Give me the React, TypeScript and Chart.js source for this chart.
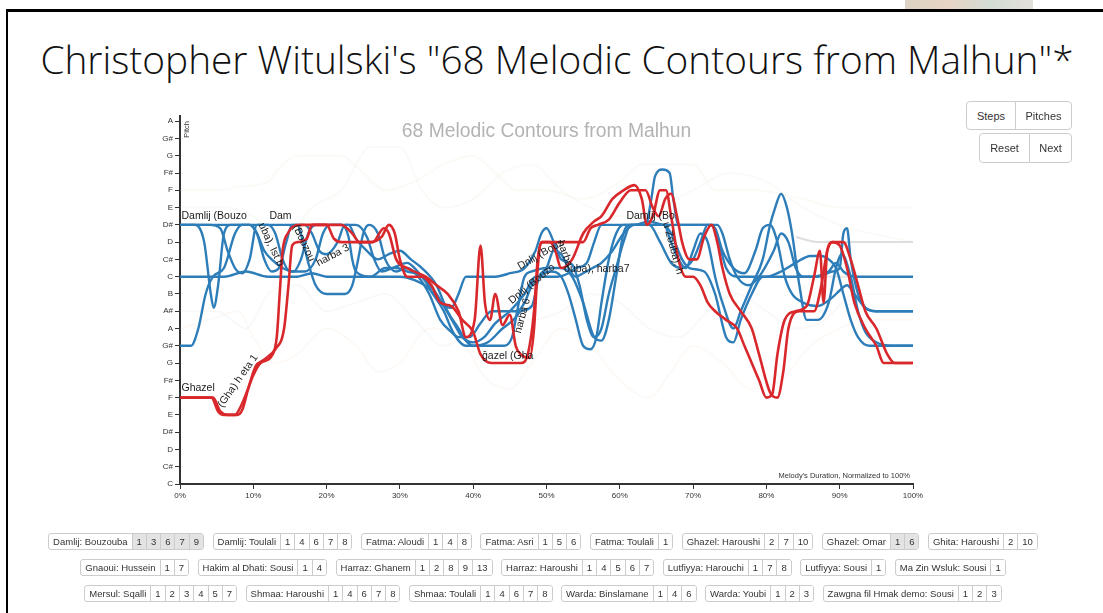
import React, { useEffect, useRef } from 'react';
import { Chart, registerables } from 'chart.js';

Chart.register(...registerables);

// ---------- data ----------
const pitchNames = ['C', 'C#', 'D', 'D#', 'E', 'F', 'F#', 'G', 'G#', 'A', 'A#', 'B', 'C', 'C#', 'D', 'D#', 'E', 'F', 'F#', 'G', 'G#', 'A'];
const xTickValues = [0, 10, 20, 30, 40, 50, 60, 70, 80, 90, 100];

// [percent of duration, pitch index]
const ghazelOmar1: [number, number][] = [
  [0, 5], [4.5, 5], [5.5, 4.2], [6.5, 4], [7.5, 4], [8.3, 4.5], [9, 5.2], [10, 6.3], [11, 7], [12.5, 7.4], [13.2, 8.5], [13.6, 11], [14, 13.5], [14.7, 14.5], [16.5, 15], [20, 15], [21, 14.2], [22, 14], [26, 14], [27.5, 14.3], [28.5, 15], [29.3, 14.5], [30, 13], [31, 12], [33, 12], [34.3, 11.5], [35.5, 10.5], [37, 10.3], [38.5, 9.5], [40, 8.8], [41, 7.5], [42.5, 7], [46.5, 7], [47.5, 7.6], [48.3, 10], [48.8, 13], [49.5, 14], [55, 14], [56, 14.8], [57, 15], [58.5, 15.3], [60, 16.3], [61.5, 17], [63.5, 17], [64.5, 16], [65.3, 15.5], [66.2, 16.5], [67, 16.8], [67.8, 15.5], [68.5, 14], [69.5, 13], [70.5, 13], [71.5, 14.3], [72.5, 15], [73.3, 14], [74, 12.5], [75, 11], [76.5, 10], [78, 9], [79, 7.5], [80.5, 5.3], [81.5, 5], [82.3, 6.5], [83, 9], [84.5, 10], [86.5, 10], [87.5, 11.5], [88.3, 13.5], [89, 14], [90.5, 14], [91.5, 13], [92.5, 11.5], [93.5, 10], [95, 9], [96.5, 7.5], [97.5, 7], [100, 7],
];
const ghazelOmar6: [number, number][] = [
  [0, 5], [4.3, 5], [5.2, 4.2], [6, 4], [7.8, 4], [8.5, 4.3], [9.3, 5.5], [10.3, 6.8], [11.5, 7.2], [13, 7.8], [14.2, 9], [14.8, 11.5], [15.3, 13.8], [16, 14], [17.3, 14.2], [18, 15], [22, 15], [23.5, 14.5], [24.5, 14], [26.3, 14], [27.8, 14.8], [28.5, 14.5], [29.5, 13], [31, 12.5], [33.5, 12], [35, 11.5], [36.5, 11], [38, 10], [39, 8.5], [40.2, 9.5], [41, 13.8], [41.6, 10.5], [42.3, 9.5], [43, 11], [44, 9.2], [45, 9.8], [45.8, 8], [46.5, 7.5], [47.7, 7.3], [48.3, 9], [48.8, 12.5], [49.3, 14], [50.5, 14], [51.2, 13.5], [52, 12.5], [53.5, 13], [55, 14.5], [56.5, 15.2], [57.5, 15.5], [59, 16.5], [60.5, 17], [62, 17.3], [63, 16.5], [63.7, 15], [64.5, 15.5], [65.5, 17], [66.3, 17], [67, 15.5], [68, 13], [69, 12], [70, 12], [71, 11.5], [72, 10.5], [73, 10], [74.5, 9.5], [76, 9], [77, 8], [78, 7], [79, 6], [80, 5], [80.8, 5.2], [81.5, 7.5], [82.5, 9.5], [84, 10], [85.5, 10.3], [86.5, 12], [87.3, 13.5], [87.8, 10.5], [88.3, 13.5], [89, 14], [90, 13.8], [91, 12.5], [92, 10.5], [93.5, 9], [95, 8], [96, 7], [100, 7],
];
const bouzouba1: [number, number][] = [
  [0, 15], [2, 15], [3.3, 14], [4.2, 11], [4.6, 10.2], [5.2, 11.5], [6, 14.5], [7, 15], [9.5, 15], [10.5, 14.5], [11.5, 13.5], [12.5, 13], [14, 12.5], [15.5, 12.3], [16.5, 13], [17.5, 14.5], [18.5, 15], [22, 15], [23, 14.3], [23.5, 13], [24, 12.3], [26, 12], [28, 12.5], [29.5, 12.5], [31, 12.3], [33, 12], [34.5, 11], [36, 10], [37, 9], [38, 8.3], [39, 8], [44, 8], [45.3, 8.5], [46, 10], [47, 12], [48, 12.3], [50, 12.5], [52, 12.5], [53.5, 12], [55, 10.5], [56.5, 8.5], [57.5, 8.3], [58.5, 9.5], [59.5, 12], [60.5, 14.5], [61.5, 15], [66, 15], [67, 14.5], [68.5, 13], [69.5, 12.5], [71.5, 12.3], [73, 11], [74.5, 8.5], [75.5, 8.2], [76.5, 9.5], [78, 11], [79.5, 12], [82, 12], [86, 12], [88.5, 12.3], [89.5, 12.8], [90.5, 12.3], [92, 12], [100, 12],
];
const bouzouba3: [number, number][] = [
  [0, 12], [6, 12], [9, 12.3], [12, 12], [16, 12], [18, 12.2], [20, 12], [26, 12], [30, 12], [32, 11.8], [34, 11.3], [35.5, 10.5], [37, 10.2], [38, 11], [39, 12], [41, 12], [43, 12], [45, 12.2], [47, 12.5], [48.5, 13.5], [49.3, 14.5], [50, 14.8], [51, 14], [52, 13], [53.5, 12.7], [54.5, 11.5], [55.5, 9.5], [56.5, 8.5], [57.5, 9], [58.5, 11], [59.5, 12.5], [60.5, 14], [61.5, 15], [63.5, 15], [64.3, 16.5], [64.8, 17.8], [65.8, 18.2], [66.8, 18], [67.3, 16.5], [68, 15], [73.3, 15], [74, 14.5], [75, 13], [76, 12], [77.5, 11.5], [79, 12], [81, 13.5], [82, 14.5], [83, 14], [84, 12.5], [85, 12], [87, 12], [89, 12.3], [90, 12.5], [90.5, 14.5], [91, 14.8], [91.5, 13], [92.5, 11], [93.5, 10.2], [95, 10], [100, 10],
];
const bouzouba6: [number, number][] = [
  [0, 8], [1.5, 8], [2.5, 9], [3.5, 11], [4.5, 12], [6, 12.5], [7.5, 14.5], [8.5, 15], [12, 15], [13, 14.5], [14, 13], [15, 12.3], [17, 12.3], [18.5, 13], [19.5, 14.5], [20.5, 15], [23, 15], [24, 14.2], [25.5, 13.5], [27, 13], [28.5, 13.3], [30, 13.5], [31.5, 13], [33, 12.5], [35, 11.5], [36.5, 10], [38, 9], [39, 8.3], [40, 8], [42, 8.2], [44, 9], [45.5, 9.5], [46.5, 10], [48, 10.3], [49, 12], [50, 12.5], [51, 13.5], [52, 13.3], [53, 12.5], [54, 12], [55, 12.2], [56.3, 12.5], [57.5, 12.8], [59, 13.5], [60.5, 14.5], [62, 15], [66, 15], [67, 14], [68, 13], [69, 12.5], [70, 13.5], [71, 14.5], [72, 14], [73, 12], [74, 10.5], [75.5, 9], [76.5, 10], [78, 11.5], [79.5, 13], [80.5, 15], [81.2, 16], [82, 16.8], [82.8, 16], [83.5, 14.5], [84.5, 11.5], [85.5, 9.5], [87, 9.5], [88.5, 10.5], [89.5, 12.5], [90.3, 13.3], [91.5, 12], [92.5, 10], [93.5, 8.8], [95, 8.2], [97, 8], [100, 8],
];
const bouzouba7: [number, number][] = [
  [0, 15], [4, 15], [5.5, 14.8], [6.5, 13.5], [7.5, 12.5], [8.5, 12.2], [9.5, 13], [10.5, 15], [16, 15], [16.8, 14], [17.5, 12.8], [18.5, 11.5], [20, 11], [22.5, 11], [23.5, 11.5], [24.3, 13], [25, 14.5], [25.8, 15], [27, 14.5], [28, 13], [29.5, 12.3], [31, 12.5], [32.5, 12], [34, 11], [35.5, 9.5], [37, 8.8], [38, 8.5], [39.5, 8.5], [41, 9.3], [42.5, 10], [44.5, 10], [46, 10], [47, 10.5], [48, 11.5], [49, 12], [50.5, 12.3], [52, 12], [53, 11], [54, 9.5], [55, 8], [56, 7.8], [56.8, 8.5], [57.5, 10.5], [58.5, 13], [59.5, 14.5], [60.5, 15], [64, 15], [65.5, 14], [67, 12.8], [68.5, 12.5], [70, 13], [71, 14], [72, 15], [73, 14.8], [74, 13.5], [75.5, 12.5], [77, 12.2], [78.5, 13.5], [79.5, 14.8], [80.5, 15], [81.5, 14], [82.5, 12], [83.5, 11], [85, 10.5], [87, 10.3], [89, 10.8], [90, 11.2], [91, 11.5], [92, 11], [93.5, 10.2], [95, 10], [100, 10],
];
const bouzouba9: [number, number][] = [
  [0, 15], [3, 15], [5, 15], [7.5, 15], [9.5, 15], [10.5, 14.5], [11.5, 13], [12.5, 12.3], [13.5, 12.5], [14.5, 14], [15.3, 15], [17, 15], [18, 14.5], [19, 13.5], [20, 13.3], [21.5, 14], [22.5, 15], [24, 15], [25.5, 14.3], [26.5, 13], [27.5, 12.3], [29, 12.5], [31, 12.8], [32, 12.5], [33, 12], [34.5, 11.3], [36, 10.3], [37.5, 9.2], [38.5, 8.5], [40, 8.2], [41.5, 8.5], [43, 9.3], [45, 10], [47, 11], [48.5, 12], [50, 12], [51.5, 12], [53, 12.2], [54, 12.5], [55.5, 12.8], [56.5, 14], [57.5, 15], [59, 15], [62, 15], [64, 15.2], [66, 15], [68, 15], [70, 15], [72.5, 15], [73.5, 14], [74.5, 12.5], [76, 12], [78, 12], [80, 12], [82, 12.3], [84, 12.8], [86, 13.2], [87.5, 13.2], [88.5, 13], [89.5, 12.5], [90.5, 11], [91.5, 9.5], [92.5, 8.5], [94, 8], [100, 8],
];
// faint, unselected contours in the background
const faintA: [number, number][] = [
  [0, 17], [5, 17], [8, 17.2], [12, 17.5], [14, 18.5], [16, 19], [22, 19], [25, 18], [28, 17], [32, 17.5], [36, 18.5], [40, 19], [43, 18], [46, 17], [50, 17], [55, 16.5], [60, 17.5], [63, 18.5], [70, 18.5], [73, 17], [78, 17], [85, 16.5], [90, 16], [100, 16],
];
const faintB: [number, number][] = [
  [0, 16], [6, 16], [10, 15.5], [14, 14], [18, 16], [22, 17], [26, 19.5], [30, 19.5], [33, 17], [36, 16], [40, 16.5], [44, 18], [48, 18.5], [52, 17], [56, 16], [60, 15.5], [65, 16], [70, 17], [75, 18], [80, 17.5], [85, 16], [90, 15], [100, 14],
];
const faintC: [number, number][] = [
  [0, 9], [4, 9.5], [8, 10], [10, 8.5], [13, 7], [16, 7.5], [20, 9], [24, 8], [27, 6.5], [30, 7], [34, 9], [38, 8.5], [42, 6], [45, 5.5], [48, 7], [52, 9], [56, 8], [60, 6], [64, 5], [67, 6.5], [70, 8], [74, 7], [78, 5.5], [82, 6], [86, 8], [90, 9], [94, 9.5], [100, 9.5],
];
const faintD: [number, number][] = [
  [0, 10], [5, 10], [9, 9], [12, 11], [16, 11.5], [20, 10], [24, 10.5], [28, 11], [32, 9.5], [36, 8], [40, 9], [44, 10.5], [48, 9.5], [52, 10], [56, 11], [60, 10.5], [64, 9], [68, 8.5], [72, 10], [76, 11], [80, 10], [84, 9], [88, 9.5], [92, 11], [100, 11],
];
const greyD: [number, number][] = [[84, 14.3], [87, 14], [100, 14]];
const greyC: [number, number][] = [[76, 12], [94, 12]];

const pathLabels: { text: string; at: [number, number]; rot: number }[] = [
  { text: 'Damlij (Bouzo', at: [0.2, 15.35], rot: 0 },
  { text: 'uba), Ist b', at: [10.7, 15.0], rot: 65 },
  { text: 'Dam', at: [12.2, 15.35], rot: 0 },
  { text: '(Bouzou', at: [15.4, 14.9], rot: 65 },
  { text: 'harba 3', at: [18.9, 12.6], rot: -28 },
  { text: 'Ghazel', at: [0.2, 5.4], rot: 0 },
  { text: '(Gha) h eta 1', at: [5.8, 4.4], rot: -55 },
  { text: 'ḡazel (Gha', at: [41.2, 7.25], rot: 0 },
  { text: 'harba 6', at: [46.5, 8.7], rot: -75 },
  { text: 'Dnlij (Bouzo', at: [45.3, 10.4], rot: -40 },
  { text: 'Dnlij (Bouz', at: [46.4, 12.4], rot: -30 },
  { text: 'harba', at: [51.5, 14.0], rot: 70 },
  { text: 'ouba), harba7', at: [52.4, 12.25], rot: 0 },
  { text: 'Damlij (Bo', at: [60.9, 15.35], rot: 0 },
  { text: 'u Zouba), h', at: [65.9, 15.1], rot: 75 },
];

const groupRows: { name: string; nums: number[]; sel: boolean }[][] = [
  [
    { name: 'Damlij: Bouzouba', nums: [1, 3, 6, 7, 9], sel: true },
    { name: 'Damlij: Toulali', nums: [1, 4, 6, 7, 8], sel: false },
    { name: 'Fatma: Aloudi', nums: [1, 4, 8], sel: false },
    { name: 'Fatma: Asri', nums: [1, 5, 6], sel: false },
    { name: 'Fatma: Toulali', nums: [1], sel: false },
    { name: 'Ghazel: Haroushi', nums: [2, 7, 10], sel: false },
    { name: 'Ghazel: Omar', nums: [1, 6], sel: true },
    { name: 'Ghita: Haroushi', nums: [2, 10], sel: false },
  ],
  [
    { name: 'Gnaoui: Hussein', nums: [1, 7], sel: false },
    { name: 'Hakim al Dhati: Sousi', nums: [1, 4], sel: false },
    { name: 'Harraz: Ghanem', nums: [1, 2, 8, 9, 13], sel: false },
    { name: 'Harraz: Haroushi', nums: [1, 4, 5, 6, 7], sel: false },
    { name: 'Lutfiyya: Harouchi', nums: [1, 7, 8], sel: false },
    { name: 'Lutfiyya: Sousi', nums: [1], sel: false },
    { name: 'Ma Zin Wsluk: Sousi', nums: [1], sel: false },
  ],
  [
    { name: 'Mersul: Sqalli', nums: [1, 2, 3, 4, 5, 7], sel: false },
    { name: 'Shmaa: Haroushi', nums: [1, 4, 6, 7, 8], sel: false },
    { name: 'Shmaa: Toulali', nums: [1, 4, 6, 7, 8], sel: false },
    { name: 'Warda: Binslamane', nums: [1, 4, 6], sel: false },
    { name: 'Warda: Youbi', nums: [1, 2, 3], sel: false },
    { name: 'Zawgna fil Hmak demo: Sousi', nums: [1, 2, 3], sel: false },
  ],
];

const BLUE = '#2d7db9';
const RED = '#d9282c';

const series = (pts: [number, number][], color: string, width: number) => ({
  data: pts.map(([x, y]) => ({ x, y })),
  borderColor: color,
  borderWidth: width,
  pointRadius: 0,
  fill: false,
  cubicInterpolationMode: 'monotone' as const,
});

const overlayPlugin = {
  id: 'overlayText',
  afterDatasetsDraw(chart: any) {
    const { ctx, chartArea, scales } = chart;
    ctx.save();
    // in-plot title
    ctx.font = '19.3px Arial, "Liberation Sans", sans-serif';
    ctx.fillStyle = '#b3b3b3';
    ctx.textAlign = 'center';
    ctx.textBaseline = 'middle';
    ctx.fillText('68 Melodic Contours from Malhun', (chartArea.left + chartArea.right) / 2, chartArea.top + 16);
    // path labels
    ctx.font = '10.5px Arial, "Liberation Sans", sans-serif';
    ctx.fillStyle = '#1a1a1a';
    ctx.textAlign = 'left';
    ctx.textBaseline = 'alphabetic';
    for (const l of pathLabels) {
      const px = scales.x.getPixelForValue(l.at[0]);
      const py = scales.y.getPixelForValue(l.at[1]);
      ctx.save();
      ctx.translate(px, py);
      ctx.rotate((l.rot * Math.PI) / 180);
      ctx.fillText(l.text, 0, 0);
      ctx.restore();
    }
    // axis captions
    ctx.font = '7.5px Arial, "Liberation Sans", sans-serif';
    ctx.fillStyle = '#333';
    ctx.textAlign = 'right';
    ctx.fillText("Melody's Duration, Normalized to 100%", chartArea.right - 3, chartArea.bottom - 6);
    ctx.save();
    ctx.translate(chartArea.left + 9, chartArea.top + 5);
    ctx.rotate(-Math.PI / 2);
    ctx.textAlign = 'right';
    ctx.fillText('Pitch', 0, 0);
    ctx.restore();
    ctx.restore();
  },
};

function ContourChart() {
  const ref = useRef<HTMLCanvasElement | null>(null);
  useEffect(() => {
    if (!ref.current) return;
    const axisCommon = {
      grid: { drawOnChartArea: false, drawTicks: true, tickLength: 5, color: '#333', lineWidth: 1 },
      border: { display: true, color: '#333', width: 2 },
    };
    const chart = new Chart(ref.current, {
      type: 'line',
      data: {
        datasets: [
          series(ghazelOmar1, RED, 2.6),
          series(ghazelOmar6, RED, 2.6),
          series(bouzouba1, BLUE, 2.4),
          series(bouzouba3, BLUE, 2.4),
          series(bouzouba6, BLUE, 2.4),
          series(bouzouba7, BLUE, 2.4),
          series(bouzouba9, BLUE, 2.4),
          series(greyD, 'rgba(195,195,195,0.55)', 2),
          series(greyC, 'rgba(205,205,205,0.45)', 2),
          series(faintA, 'rgba(225,205,175,0.11)', 2),
          series(faintB, 'rgba(200,215,185,0.11)', 2),
          series(faintC, 'rgba(235,200,170,0.1)', 2),
          series(faintD, 'rgba(205,205,205,0.12)', 2),
        ],
      },
      options: {
        animation: false,
        responsive: false,
        devicePixelRatio: 1,
        layout: { padding: { left: 130, right: 190, top: 116, bottom: 99 } },
        plugins: { legend: { display: false }, tooltip: { enabled: false }, title: { display: false } },
        scales: {
          x: {
            type: 'linear',
            min: 0,
            max: 100,
            afterBuildTicks: (s: any) => { s.ticks = xTickValues.map((v) => ({ value: v })); },
            ticks: {
              callback: (v: any) => `${v}%`,
              font: { size: 8, family: 'Arial, "Liberation Sans", sans-serif' },
              color: '#333',
              maxRotation: 0,
              padding: 2,
            },
            afterFit: (s: any) => { s.height = 30; },
            ...axisCommon,
          },
          y: {
            type: 'linear',
            min: 0,
            max: 21.3,
            afterBuildTicks: (s: any) => { s.ticks = pitchNames.map((_, i) => ({ value: i })); },
            ticks: {
              autoSkip: false,
              callback: (v: any) => pitchNames[v] ?? '',
              font: { size: 8, family: 'Arial, "Liberation Sans", sans-serif' },
              color: '#333',
              padding: 2,
            },
            afterFit: (s: any) => { s.width = 50; },
            ...axisCommon,
          },
        },
      } as any,
      plugins: [overlayPlugin],
    });
    return () => chart.destroy();
  }, []);
  return <canvas ref={ref} width={1103} height={613} style={{ position: 'absolute', left: 0, top: 0, width: 1103, height: 613 }} />;
}

const btnBase: React.CSSProperties = {
  position: 'absolute',
  boxSizing: 'border-box',
  border: '1px solid #ccc',
  background: '#fff',
  color: '#333',
  font: '11px Arial, "Liberation Sans", sans-serif',
  display: 'flex',
  alignItems: 'center',
  justifyContent: 'center',
};

export default function App() {
  const rowTops = [533, 559, 585];
  return (
    <div style={{ position: 'absolute', left: 0, top: 0, width: 1103, height: 613, overflow: 'hidden', background: '#fff' }}>
      <div style={{ position: 'absolute', left: 905, top: 0, width: 128, height: 9, background: 'linear-gradient(90deg,#dcd4c4,#e8d3c6,#d3ddd4,#e4e0da)' }} />
      <div style={{ position: 'absolute', left: 7, top: 9, width: 1096, height: 3, background: '#000' }} />
      <div style={{ position: 'absolute', left: 6, top: 9, width: 2, height: 604, background: '#000' }} />
      <div style={{ position: 'absolute', left: 0, top: 33, width: 1114, textAlign: 'center', font: '300 38.8px "Open Sans", "Noto Sans", sans-serif', color: '#111', whiteSpace: 'nowrap' }}>
        Christopher Witulski's "68 Melodic Contours from Malhun"*
      </div>
      <ContourChart />
      <div style={{ ...btnBase, left: 966, top: 101, width: 50, height: 29, borderRadius: '4px 0 0 4px' }}>Steps</div>
      <div style={{ ...btnBase, left: 1015, top: 101, width: 57, height: 29, borderRadius: '0 4px 4px 0' }}>Pitches</div>
      <div style={{ ...btnBase, left: 979, top: 133, width: 51, height: 30, borderRadius: '4px 0 0 4px' }}>Reset</div>
      <div style={{ ...btnBase, left: 1029, top: 133, width: 43, height: 30, borderRadius: '0 4px 4px 0' }}>Next</div>
      {groupRows.map((row, ri) => (
        <div key={ri} style={{ position: 'absolute', left: 0, width: 1086, top: rowTops[ri], display: 'flex', justifyContent: 'center', gap: 8.5 }}>
          {row.map((g) => (
            <div key={g.name} style={{ display: 'flex', border: '1px solid #ccc', borderRadius: 3, height: 17, boxSizing: 'border-box', font: '9.5px Arial, "Liberation Sans", sans-serif', color: '#333', overflow: 'hidden', background: '#fff' }}>
              <span style={{ padding: '0 4px', display: 'flex', alignItems: 'center' }}>{g.name}</span>
              {g.nums.map((n) => (
                <span key={n} style={{ borderLeft: '1px solid #ccc', padding: '0 4px', display: 'flex', alignItems: 'center', background: g.sel ? '#e3e3e3' : '#fff' }}>{n}</span>
              ))}
            </div>
          ))}
        </div>
      ))}
    </div>
  );
}
